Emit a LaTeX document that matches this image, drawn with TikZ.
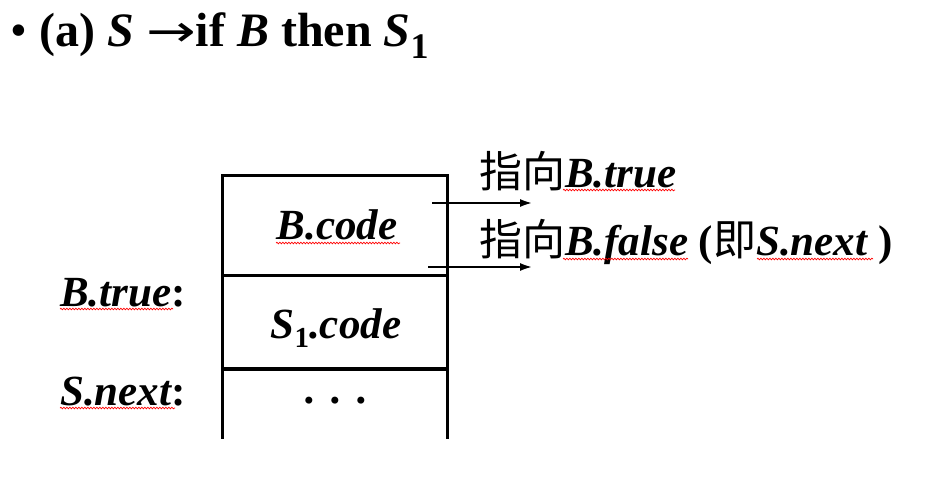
\documentclass[tikz,border=0pt]{standalone}
\usepackage{fontspec}
\setmainfont{Liberation Serif}
\newfontfamily\cjk{Noto Sans CJK SC}
\newfontfamily\symf{DejaVu Sans}
\usetikzlibrary{arrows.meta,decorations.pathmorphing}
\newcommand{\bigtxt}{\fontsize{43}{50}\selectfont}
\newcommand{\titletxt}{\fontsize{48}{56}\selectfont}
\newcommand{\subone}{\raisebox{-0.22em}{\fontsize{29}{30}\selectfont\upshape 1}}
\newcommand{\subonet}{\raisebox{-0.26em}{\fontsize{36}{38}\selectfont\upshape 1}}
\begin{document}
\begin{tikzpicture}[x=1pt,y=-1pt,
  lbl/.style={inner sep=0pt,font=\bigtxt\bfseries\itshape},
  boxline/.style={line width=3.6pt,line cap=rect},
  ptr/.style={line width=2.9pt,-{Latex[length=13pt,width=8pt]}},
  squiggle/.style={red,line width=0.7pt,decorate,decoration={snake,amplitude=0.8pt,segment length=3pt}}]
\useasboundingbox (0,0) rectangle (948,479);
% title
\node[inner sep=0pt,anchor=base west,font=\titletxt\bfseries] (title) at (10,46)
  {{\mdseries •}\hspace{0.26em}(a) \textit{S}\hspace{0.25em}\scalebox{1.35}[1]{\symf\mdseries\fontsize{44}{50}\selectfont →}if \textit{B} then \textit{S}\subonet};
% box
\draw[boxline] (222.5,437) -- (222.5,175.5) -- (447.5,175.5) -- (447.5,437);
\draw[boxline] (222.5,275.5) -- (445,275.5);
\draw[boxline] (226,369) -- (447.5,369);
% cell texts
\node[lbl,anchor=base] (bcode) at (337,239) {B.code};
\node[lbl,anchor=base] (scode) at (336,338) {S\subone.code};
\node[lbl,anchor=base] (dots) at (337,403) {.\hspace{0.35em}.\hspace{0.35em}.};
% left labels
\node[lbl,anchor=base west] (btrue) at (60,306) {B.true\upshape:};
\node[lbl,anchor=base west] (snext) at (60,405) {S.next\upshape:};
% right labels
\node[lbl,anchor=base west] (t1) at (479,187) {{\cjk\mdseries\upshape 指向}B.true};
\node[lbl,anchor=base west] (t2) at (479,255) {{\cjk\mdseries\upshape 指向}B.false {\upshape(}{\cjk\mdseries\upshape 即}S.next {\upshape)}};
% arrows
\coordinate (a1s) at (432,203);
\coordinate (a1e) at (533,203);
\coordinate (a2s) at (428,267);
\coordinate (a2e) at (533,267);
\draw[ptr] (a1s) -- (a1e);
\draw[ptr] (a2s) -- (a2e);
% spell-check squiggles
\draw[squiggle] (276,243) -- (400,243);
\draw[squiggle] (563,190) -- (675,190);
\draw[squiggle] (563,259) -- (688,259);
\draw[squiggle] (757,259) -- (873,259);
\draw[squiggle] (60,309) -- (173,309);
\draw[squiggle] (60,408) -- (175,408);
\end{tikzpicture}
\end{document}
